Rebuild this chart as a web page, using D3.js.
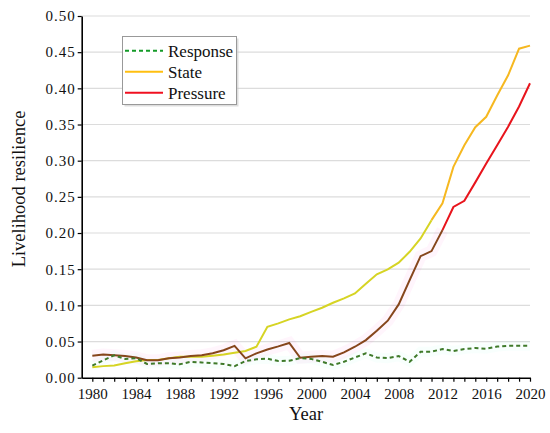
<!DOCTYPE html>
<html><head><meta charset="utf-8">
<script src="https://cdn.jsdelivr.net/npm/d3@7"></script>
<style>
body{margin:0;background:#fff;}
svg{display:block;font-family:"Liberation Serif","Times New Roman",serif;}
</style></head>
<body><svg id="c" width="550" height="433"></svg>
<script>
const years = d3.range(1980, 2021);
const response = [0.0166,0.024,0.031,0.026,0.027,0.019,0.020,0.020,0.0185,0.022,0.021,
  0.020,0.019,0.016,0.023,0.0254,0.0263,0.023,0.0235,0.027,0.026,
  0.022,0.0175,0.022,0.028,0.0337,0.028,0.027,0.030,0.022,0.036,
  0.036,0.0396,0.037,0.0396,0.041,0.040,0.043,0.044,0.044,0.044];
const state = [0.0143,0.016,0.017,0.020,0.0226,0.0244,0.0244,0.027,0.029,0.029,0.029,
  0.0304,0.032,0.0346,0.0369,0.0428,0.0704,0.0751,0.0806,0.085,0.091,
  0.0967,0.1036,0.1096,0.1165,0.130,0.143,0.1497,0.159,0.174,0.1925,
  0.2178,0.241,0.2914,0.3213,0.3463,0.3607,0.390,0.418,0.4548,0.459];
const pressure = [0.0304,0.032,0.031,0.030,0.028,0.024,0.024,0.0268,0.028,0.030,0.031,
  0.0337,0.038,0.044,0.0268,0.0337,0.039,0.0433,0.048,0.0276,0.029,
  0.030,0.029,0.035,0.0428,0.052,0.065,0.0788,0.1013,0.135,0.168,
  0.175,0.204,0.236,0.2445,0.270,0.296,0.3213,0.347,0.375,0.407];
const yTicks = [0,0.05,0.10,0.15,0.20,0.25,0.30,0.35,0.40,0.45,0.50];
const xLabelYears = [1980,1984,1988,1992,1996,2000,2004,2008,2012,2016,2020];
const seriesNames = ["Response","State","Pressure"];

const svg = d3.select("#c");
const x = d3.scaleLinear().domain([1979.03, 2020]).range([81.7, 530]);
const y = d3.scaleLinear().domain([0, 0.5]).range([377.7, 16]);

// grid
svg.append("g").selectAll("line").data(yTicks.slice(1)).join("line")
  .attr("x1", x(1979.03)).attr("x2", x(2020))
  .attr("y1", d => y(d)).attr("y2", d => y(d))
  .attr("stroke", "#dcdcdc").attr("stroke-width", 1.2);

// axes
const xAxis = d3.axisBottom(x).tickValues(years).tickSize(4).tickSizeOuter(0)
  .tickFormat(d => xLabelYears.includes(d) ? String(d) : "");
const gx = svg.append("g").attr("transform", `translate(0,${y(0)})`).call(xAxis);
gx.select(".domain").attr("stroke", "#000").attr("stroke-width", 1.6);
gx.selectAll(".tick line").attr("stroke", "#000").attr("stroke-width", 1.2);
gx.selectAll(".tick text").attr("font-size", 15).attr("fill", "#111")
  .attr("font-family", "Liberation Serif").attr("dy", "0.95em");

const yAxis = d3.axisLeft(y).tickValues(yTicks).tickSize(4).tickSizeOuter(0)
  .tickFormat(d3.format(".2f"));
const gy = svg.append("g").attr("transform", `translate(${x(1979.03)},0)`).call(yAxis);
gy.select(".domain").attr("stroke", "#000").attr("stroke-width", 1.6);
gy.selectAll(".tick line").attr("stroke", "#000").attr("stroke-width", 1.2);
gy.selectAll(".tick text").attr("font-size", 15).attr("fill", "#111")
  .attr("font-family", "Liberation Serif").attr("letter-spacing", "1px").attr("x", -6);

// titles
svg.append("text").attr("x", 306).attr("y", 420).attr("text-anchor", "middle")
  .attr("font-size", 18.5).attr("fill", "#111").text("Year");
svg.append("text").attr("transform", "translate(25,189) rotate(-90)")
  .attr("text-anchor", "middle").attr("font-size", 18.5).attr("fill", "#111")
  .text("Livelihood resilience");

const line = d3.line().x(d => x(d[0])).y(d => y(d[1]));
const pts = arr => years.map((yr, i) => [yr, arr[i]]);
const seg = (arr, a, b) => pts(arr).filter(p => p[0] >= a && p[0] <= b);

// faint glows
svg.append("path").datum(seg(pressure, 1980, 2012)).attr("d", line)
  .attr("fill", "none").attr("stroke", "#ff40c0").attr("stroke-opacity", 0.05)
  .attr("stroke-width", 12);
svg.append("path").datum(pts(response)).attr("d", line)
  .attr("fill", "none").attr("stroke", "#40ffd0").attr("stroke-opacity", 0.04)
  .attr("stroke-width", 10);

// State
svg.append("path").datum(seg(state, 1980, 2011)).attr("d", line)
  .attr("fill", "none").attr("stroke", "#d6d424").attr("stroke-width", 2);
svg.append("path").datum(seg(state, 2011, 2020)).attr("d", line)
  .attr("fill", "none").attr("stroke", "#f6b820").attr("stroke-width", 2);
// Pressure
svg.append("path").datum(seg(pressure, 1980, 2012)).attr("d", line)
  .attr("fill", "none").attr("stroke", "#86461c").attr("stroke-width", 2);
svg.append("path").datum(seg(pressure, 2012, 2020)).attr("d", line)
  .attr("fill", "none").attr("stroke", "#e8141c").attr("stroke-width", 2);
// Response
svg.append("path").datum(pts(response)).attr("d", line)
  .attr("fill", "none").attr("stroke", "#3f7a2a").attr("stroke-width", 2)
  .attr("stroke-dasharray", "4,3");

// legend
const lg = svg.append("g");
lg.append("rect").attr("x", 124.5).attr("y", 38.5).attr("width", 114).attr("height", 68)
  .attr("fill", "#c8c8c8").attr("opacity", 0.6);
lg.append("rect").attr("x", 122.5).attr("y", 36.5).attr("width", 114).attr("height", 68)
  .attr("fill", "#fff").attr("stroke", "#999").attr("stroke-width", 1);
const lgColors = ["#149a28", "#ffbf10", "#f01020"];
const lgDash = ["4,3", null, null];
seriesNames.forEach((n, i) => {
  const yy = 50.7 + i * 21;
  lg.append("line").attr("x1", 125).attr("x2", 163).attr("y1", yy).attr("y2", yy)
    .attr("stroke", lgColors[i]).attr("stroke-width", 2)
    .attr("stroke-dasharray", lgDash[i]);
  lg.append("text").attr("x", 168).attr("y", yy).attr("dy", "0.35em")
    .attr("font-size", 17).attr("fill", "#111").text(n);
});
</script></body></html>
